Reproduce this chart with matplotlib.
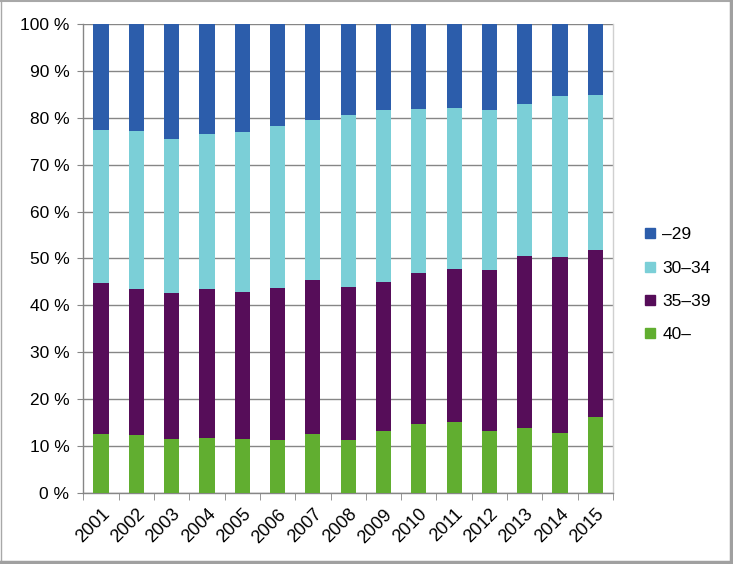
import matplotlib
matplotlib.use("Agg")
import matplotlib.pyplot as plt
from matplotlib.lines import Line2D
import numpy as np

years = ["2001", "2002", "2003", "2004", "2005", "2006", "2007", "2008",
         "2009", "2010", "2011", "2012", "2013", "2014", "2015"]
age_40 = [12.6, 12.4, 11.6, 11.8, 11.6, 11.4, 12.6, 11.4, 13.3, 14.8, 15.2, 13.3, 13.9, 12.9, 16.3]
age_35_39 = [32.2, 31.1, 31.0, 31.7, 31.3, 32.3, 32.8, 32.5, 31.7, 32.1, 32.6, 34.3, 36.6, 37.4, 35.5]
age_30_34 = [32.5, 33.6, 32.8, 33.0, 34.0, 34.5, 34.0, 36.6, 36.6, 35.0, 34.3, 34.0, 32.4, 34.3, 33.0]
age_29 = [22.7, 22.9, 24.6, 23.5, 23.1, 21.8, 20.6, 19.5, 18.4, 18.1, 17.9, 18.4, 17.1, 15.4, 15.2]

series = [("40–", age_40, "#61AE30"),
          ("35–39", age_35_39, "#560D59"),
          ("30–34", age_30_34, "#7BCFD7"),
          ("–29", age_29, "#2C5DAB")]

plt.rcParams['font.family'] = ['Liberation Sans', 'DejaVu Sans']

fig = plt.figure(figsize=(7.33, 5.64), dpi=100)
ax = fig.add_axes([0.1137, 0.1254, 0.7226, 0.8326])

x = np.arange(len(years))
bottom = np.zeros(len(years))
for name, vals, col in series:
    v = np.array(vals)
    ax.bar(x, v, bottom=bottom, width=0.43, color=col, zorder=3)
    bottom += v

ax.set_xlim(-0.5, len(years) - 0.5)
ax.set_ylim(0, 100)
ax.set_yticks(np.arange(0, 101, 10))
ax.set_yticklabels([f"{v} %" for v in range(0, 101, 10)], fontsize=12.5)
ax.yaxis.grid(True, color="#868686", linewidth=1.0, zorder=0)
ax.tick_params(axis='y', length=4, color="#868686", pad=6)

ax.set_xticks(x)
ax.set_xticklabels(years, rotation=45, ha='right', rotation_mode='anchor', fontsize=13)
ax.tick_params(axis='x', which='major', length=0, pad=9)
ax.set_xticks(np.arange(-0.5, len(years), 1.0), minor=True)
ax.tick_params(axis='x', which='minor', length=5, color="#868686")

for s in ['left', 'bottom']:
    ax.spines[s].set_color("#868686")
    ax.spines[s].set_linewidth(1.0)
ax.spines['top'].set_visible(False)
ax.spines['right'].set_color("#D0D0D0")
ax.spines['right'].set_linewidth(1.0)

legend_order = [series[3], series[2], series[1], series[0]]
handles = [Line2D([0], [0], marker='s', linestyle='none', markersize=7,
                  markerfacecolor=c, markeredgecolor=c) for _, _, c in legend_order]
labels = [n for n, _, _ in legend_order]
fig.legend(handles, labels, loc='center left', bbox_to_anchor=(0.868, 0.495),
           frameon=False, fontsize=12.5, handlelength=0.6, handletextpad=0.4,
           labelspacing=1.05, borderpad=0)

# figure border: thin left/top, thicker right/bottom
W, H = 733.0, 564.0
fig.add_artist(Line2D([0.5 / W, 0.5 / W], [0, 1], transform=fig.transFigure, color="#A8A8A8", linewidth=1.0))
fig.add_artist(Line2D([0, 1], [1 - 1.0 / H, 1 - 1.0 / H], transform=fig.transFigure, color="#A8A8A8", linewidth=1.5))
fig.add_artist(Line2D([1 - 2.0 / W, 1 - 2.0 / W], [0, 1], transform=fig.transFigure, color="#A0A0A0", linewidth=2.5))
fig.add_artist(Line2D([0, 1], [2.0 / H, 2.0 / H], transform=fig.transFigure, color="#A0A0A0", linewidth=2.5))

fig.savefig("out.png", dpi=100)
